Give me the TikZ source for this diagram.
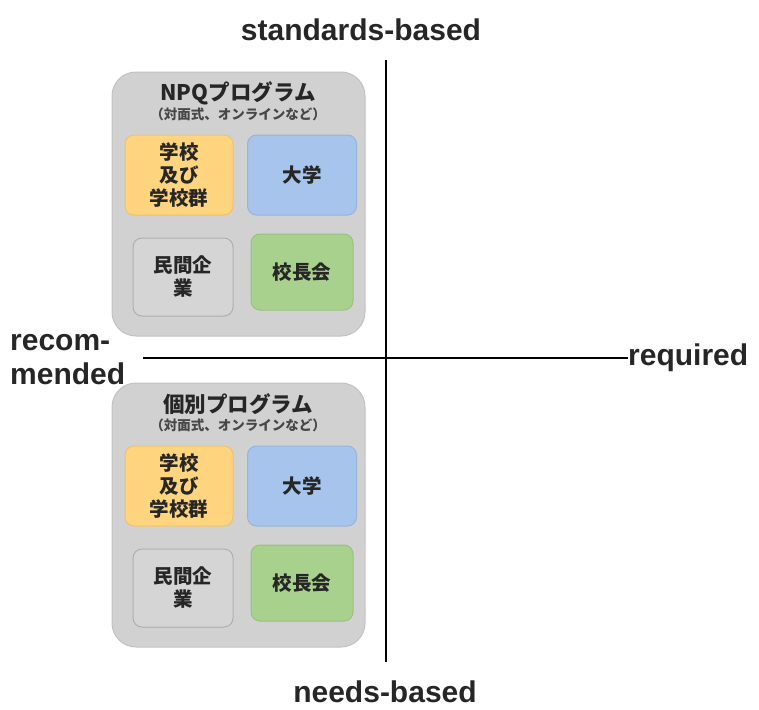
\documentclass[tikz,border=0pt]{standalone}
\usepackage{fontspec}
\setmainfont{Liberation Sans}
\newfontfamily\jpfont{Noto Sans CJK JP}
\usetikzlibrary{positioning}
\definecolor{boxgray}{HTML}{D1D1D1}
\definecolor{boxline}{HTML}{C2C2C2}
\definecolor{cellorange}{HTML}{FED47E}
\definecolor{cellblue}{HTML}{A6C4EC}
\definecolor{cellgreen}{HTML}{A9D18E}
\definecolor{cellgray}{HTML}{D5D5D5}
\definecolor{inktext}{HTML}{262626}
\tikzset{
  quadrant/.style={
    x=1pt, y=-1pt,
    axis/.style={black, line width=2.3pt},
    axis label/.style={font={\fontsize{30}{34}\selectfont\bfseries}, text=inktext, inner sep=0pt},
    group box/.style={rectangle, rounded corners=24pt, draw=boxline, fill=boxgray, line width=1pt,
      minimum width=253pt, minimum height=264pt},
    group title/.style={font={\jpfont\bfseries\fontsize{21.5}{24}\selectfont}, text=inktext, inner sep=0pt},
    group note/.style={font={\jpfont\bfseries\fontsize{13.5}{15}\selectfont}, text=inktext!85, inner sep=0pt},
    cell/.style={rectangle, rounded corners=9pt, line width=1pt, align=center, inner sep=0pt,
      font={\jpfont\bfseries\fontsize{19.5}{23}\selectfont}, text=inktext},
  },
  cell type/.style n args={3}{
    #1/.style={cell, fill=#2, draw=#3}
  },
}
\newcommand{\program}[3][]{
    \begin{scope}[#1]
    \node[group box] (#2) at (238.5,204) {};
    \node[group title] (#2-title) at (238,93) {#3};
    \node[group note] (#2-note) at (238,114) {（対面式、オンラインなど）};
    \node[orange cell, minimum width=108pt, minimum height=80pt] (#2-school) at (179,175) {学校\\及び\\学校群};
    \node[blue cell, minimum width=109pt, minimum height=80pt] (#2-univ) at (302,175) {大学};
    \node[gray cell, minimum width=100pt, minimum height=78pt] (#2-private) at (183,277) {民間企\\業};
    \node[green cell, minimum width=102pt, minimum height=76pt] (#2-heads) at (302,272) {校長会};
    \end{scope}
}

\begin{document}
\begin{tikzpicture}
[
    quadrant,
    cell type={orange cell}{cellorange}{cellorange!92!black},
    cell type={blue cell}{cellblue}{cellblue!92!black},
    cell type={gray cell}{cellgray}{boxline!90!black},
    cell type={green cell}{cellgreen}{cellgreen!92!black},
]
    \useasboundingbox (0,0) rectangle (759,709);

    % axes and their labels
    \node[axis label] (top) at (361,30) {standards-based};
    \node[axis label] (bottom) at (385,692) {needs-based};
    \node[axis label, anchor=west, align=left] (left) at (10,360) {recom-\\mended};
    \node[axis label, anchor=west] (right) at (628,358) {required};
    \coordinate (top end) at (386,60);
    \coordinate (bottom end) at (386,662);
    \coordinate (left end) at (143,358);
    \draw[axis] (top end) -- (bottom end);
    \draw[axis] (left end) -- (right.west);

    % the two programme groups
    \program{npq}{NPQプログラム}
    \program[shift={(0,311)}]{own}{個別プログラム}
\end{tikzpicture}
\end{document}
